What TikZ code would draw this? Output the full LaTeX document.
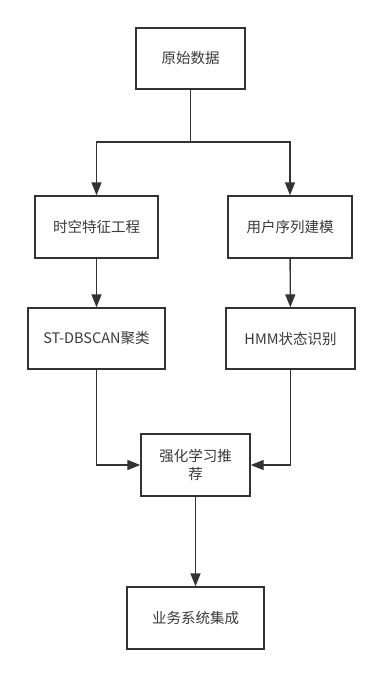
\documentclass[tikz,border=0pt]{standalone}
\usepackage{fontspec}
\setmainfont{Noto Sans CJK SC}
\usetikzlibrary{arrows.meta}
\definecolor{ln}{HTML}{333333}
\definecolor{tx}{HTML}{3A3A3A}
\begin{document}
\begin{tikzpicture}[x=1pt,y=-1pt,
  box/.style={draw=ln, line width=1.4pt, fill=white, rectangle, inner sep=0pt,
    minimum height=61pt, text=tx, align=center, font=\fontsize{14.5}{18.5}\selectfont},
  conn/.style={draw=ln, line width=1.4pt},
  arr/.style={conn, -{Triangle[length=13pt,width=10pt]}}]
\useasboundingbox (0,0) rectangle (383,677);
\fill[white] (0,0) rectangle (383,677);
\node[box, minimum width=109pt] (raw) at (190.5,58.5) {原始数据};
\node[box, minimum width=123pt, minimum height=62pt] (feat) at (96.5,227) {时空特征工程};
\node[box, minimum width=124pt, minimum height=62pt] (seq) at (290,227) {用户序列建模};
\node[box, minimum width=137pt] (st) at (96.5,338.5) {ST-DBSCAN聚类};
\node[box, minimum width=129pt] (hmm) at (290.5,338.5) {HMM状态识别};
\node[box, minimum width=109pt, minimum height=62pt] (rl) at (195.5,465) {强化学习推\\荐};
\node[box, minimum width=137pt, minimum height=62pt] (biz) at (195.5,618) {业务系统集成};
\coordinate (split) at (190.5,142);
\draw[conn] (raw.south) -- (split);
\draw[arr] (split) -| (feat.north);
\draw[arr] (split) -| (seq.north);
\draw[arr] (feat) -- (st);
\draw[arr] (seq) -- (hmm);
\draw[arr] (st.south) |- (rl.west);
\draw[arr] (hmm.south) |- (rl.east);
\draw[arr] (rl) -- (biz);
\end{tikzpicture}
\end{document}
